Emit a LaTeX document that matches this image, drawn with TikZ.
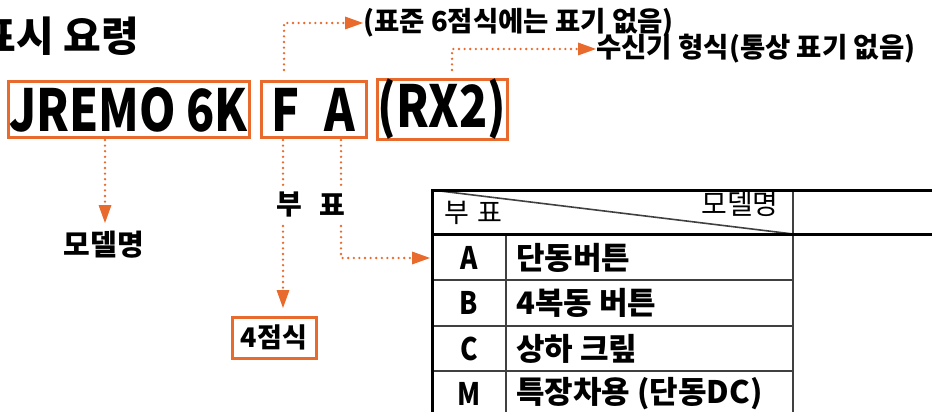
\documentclass[tikz,border=0pt]{standalone}
\usepackage{fontspec}
\usetikzlibrary{arrows.meta}
\newfontfamily\kr{Noto Sans CJK KR}
\newfontfamily\krc{Noto Sans CJK KR}[FakeStretch=0.80]
\newfontfamily\krk{Noto Sans CJK KR}[FakeStretch=0.85]
\definecolor{org}{RGB}{232,106,44}
\tikzset{
  obox/.style={draw=org, line width=3pt, inner sep=0pt, font=\krc\bfseries\fontsize{58}{58}\selectfont},
  dotline/.style={draw=org, line width=2.6pt, line cap=round, dash pattern=on 0pt off 5.6pt},
  tipa/.style={-{Triangle[length=18pt,width=13pt,fill=org,line width=0pt]}},
  lbl/.style={inner sep=0pt, font=\kr\bfseries\fontsize{27.5}{27.5}\selectfont},
  cell/.style={inner sep=0pt, font=\kr\bfseries\fontsize{31}{31}\selectfont},
  key/.style={inner sep=0pt, font=\krk\bfseries\fontsize{31}{31}\selectfont},
  thick line/.style={line width=3pt, draw=black},
  thin line/.style={line width=1.6pt, draw=black!75},
}
\begin{document}
\begin{tikzpicture}[x=1pt,y=-1pt]
\useasboundingbox (0,0) rectangle (932,412);

% title
\node[anchor=base east, inner sep=0pt, font=\kr\bfseries\fontsize{41}{41}\selectfont] (title) at (139,52) {표시 요령};

% code boxes
\node[obox, minimum width=241pt, minimum height=55pt] (jremo) at (128.5,109.5) {JREMO 6K};
\node[obox, minimum width=105pt, minimum height=55pt] (fa) at (313.5,109.5) {F\hspace{0.42em}A};
\node[obox, minimum width=130pt, minimum height=55pt] (rx) at (442,109.5) {(RX2)};

% top labels
\node[lbl, anchor=west] (lab1) at (363,23) {(표준 6점식에는 표기 없음)};
\node[lbl, anchor=west] (lab2) at (596,49) {수신기 형식(통상 표기 없음)};

\coordinate (f0) at (284,70);
\coordinate (r0) at (452,70);
\draw[dotline,tipa] (f0) |- (lab1.west);
\draw[dotline,tipa] (r0) |- (lab2.west);

% model name
\node[lbl, font=\kr\bfseries\fontsize{29}{29}\selectfont] (model) at (104,245) {모델명};
\coordinate (m1) at (105,140);
\coordinate (m2) at (105,223);
\draw[dotline,tipa] (m1) -- (m2);

% bu pyo
\node[lbl, font=\kr\bfseries\fontsize{28}{28}\selectfont] (bu) at (289,205) {부};
\node[lbl, font=\kr\bfseries\fontsize{28}{28}\selectfont] (pyo) at (332,205) {표};
\coordinate (fx1) at (283,140);
\coordinate (fx2) at (283,186);
\coordinate (fx3) at (283,226);
\coordinate (fx4) at (283,308);
\coordinate (ax1) at (341,140);
\coordinate (ax2) at (341,186);
\coordinate (ax3) at (341,226);
\coordinate (ax4) at (341,258);
\coordinate (ax5) at (430,258);
\draw[dotline] (fx1) -- (fx2);
\draw[dotline,tipa] (fx3) -- (fx4);
\draw[dotline] (ax1) -- (ax2);
\draw[dotline,tipa] (ax3) -- (ax4) -- (ax5);

% 4 point box
\node[draw=org, line width=3pt, inner sep=0pt, minimum width=84pt, minimum height=41pt,
      font=\kr\bfseries\fontsize{27}{27}\selectfont] (four) at (274,337.5) {4점식};

% table
\draw[thin line] (432,190) -- (793,234);
\draw[thin line] (506,234) -- (506,412);
\draw[thin line] (793,190) -- (793,412);
\draw[thin line] (432,280) -- (793,280);
\draw[thin line] (432,326) -- (793,326);
\draw[thin line] (432,371) -- (793,371);
\draw[thick line] (932,190) -- (432,190) -- (432,413);
\draw[thick line] (432,234) -- (932,234);

\node[inner sep=0pt, font=\kr\fontsize{27}{27}\selectfont] (hbu) at (473,213) {부\hspace{0.3em}표};
\node[inner sep=0pt, font=\kr\fontsize{28}{28}\selectfont] (hmodel) at (740,204) {모델명};

\node[key] (ka) at (469,258) {A};
\node[key] (kb) at (469,303) {B};
\node[key] (kc) at (469,349) {C};
\node[key] (km) at (469,394) {M};
\node[cell, anchor=west] (na) at (516,258) {단동버튼};
\node[cell, anchor=west] (nb) at (516,303) {4복동 버튼};
\node[cell, anchor=west] (nc) at (516,349) {상하 크\char"B9C6};
\node[cell, anchor=west] (nm) at (516,394) {특장차용 (단동DC)};
\end{tikzpicture}
\end{document}
